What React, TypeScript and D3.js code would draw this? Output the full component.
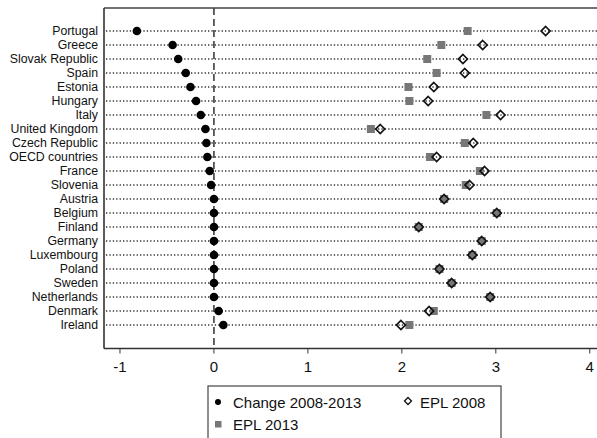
import * as d3 from 'd3'

// Countries, top to bottom
const COUNTRIES = [
  'Portugal', 'Greece', 'Slovak Republic', 'Spain', 'Estonia', 'Hungary', 'Italy',
  'United Kingdom', 'Czech Republic', 'OECD countries', 'France', 'Slovenia', 'Austria',
  'Belgium', 'Finland', 'Germany', 'Luxembourg', 'Poland', 'Sweden', 'Netherlands',
  'Denmark', 'Ireland',
]

// Change in EPL 2008-2013
const CHANGE = [
  -0.82, -0.44, -0.38, -0.30, -0.25, -0.19, -0.14, -0.09, -0.08, -0.07, -0.045, -0.03,
  0, 0, 0, 0, 0, 0, 0, 0, 0.05, 0.10,
]

// EPL index, 2008
const EPL_2008 = [
  3.53, 2.86, 2.65, 2.67, 2.34, 2.28, 3.05, 1.77, 2.76, 2.37, 2.88, 2.72, 2.45,
  3.01, 2.18, 2.85, 2.75, 2.40, 2.53, 2.94, 2.29, 1.99,
]

// EPL index, 2013
const EPL_2013 = [
  2.70, 2.42, 2.27, 2.37, 2.07, 2.08, 2.90, 1.67, 2.67, 2.30, 2.83, 2.68, 2.45,
  3.01, 2.18, 2.85, 2.75, 2.40, 2.53, 2.94, 2.34, 2.08,
]

const X_TICKS = [-1, 0, 1, 2, 3, 4]

const FONT = '"Liberation Sans", Arial, Helvetica, sans-serif'
const GRAY_SQ = '#777777'

const WIDTH = 597
const HEIGHT = 438
const PLOT = { left: 104, top: 8, right: 602, bottom: 348.5 }

const diamond = (cx: number, cy: number, r: number) =>
  `M${cx},${cy - r}L${cx + r},${cy}L${cx},${cy + r}L${cx - r},${cy}Z`

export default function App() {
  const x = d3.scaleLinear().domain([-1.17, 4.13]).range([PLOT.left, PLOT.right])
  const y = d3.scalePoint<string>().domain(COUNTRIES).range([31, 325])

  return (
    <svg
      width={WIDTH}
      height={HEIGHT}
      style={{ position: 'absolute', left: 0, top: 0, background: '#fff' }}
      fontFamily={FONT}
    >
      <rect width={WIDTH} height={HEIGHT} fill="#fff" />

      {/* dotted row guides */}
      {COUNTRIES.map(c => (
        <line
          key={'g' + c}
          x1={PLOT.left + 2}
          x2={WIDTH}
          y1={y(c)}
          y2={y(c)}
          stroke="#333"
          strokeWidth={1.3}
          strokeDasharray="1.3,2.1"
        />
      ))}

      {/* zero line */}
      <line
        x1={x(0)}
        x2={x(0)}
        y1={PLOT.top}
        y2={PLOT.bottom}
        stroke="#222"
        strokeWidth={1.4}
        strokeDasharray="7,4"
      />

      {/* frame */}
      <line x1={PLOT.left} x2={WIDTH} y1={PLOT.top} y2={PLOT.top} stroke="#444" strokeWidth={1.5} />
      <line x1={PLOT.left} x2={PLOT.left} y1={PLOT.top} y2={PLOT.bottom} stroke="#333" strokeWidth={1.6} />
      <line x1={PLOT.left} x2={WIDTH} y1={PLOT.bottom} y2={PLOT.bottom} stroke="#333" strokeWidth={1.6} />

      {/* country labels */}
      {COUNTRIES.map(c => (
        <text
          key={'l' + c}
          x={PLOT.left - 6}
          y={(y(c) ?? 0) + 4.3}
          textAnchor="end"
          fontSize={12.3}
          fill="#111"
        >
          {c}
        </text>
      ))}

      {/* x axis ticks */}
      {X_TICKS.map(t => (
        <g key={'t' + t}>
          <line x1={x(t)} x2={x(t)} y1={PLOT.bottom} y2={PLOT.bottom + 5} stroke="#333" strokeWidth={1} />
          <text x={x(t)} y={372} textAnchor="middle" fontSize={15} fill="#111">
            {t < 0 ? `-${Math.abs(t)}` : t}
          </text>
        </g>
      ))}

      {/* EPL 2013 squares */}
      {COUNTRIES.map((c, i) => (
        <rect
          key={'s' + c}
          x={x(EPL_2013[i]) - 4}
          y={(y(c) ?? 0) - 4}
          width={8}
          height={8}
          fill={GRAY_SQ}
        />
      ))}

      {/* EPL 2008 hollow diamonds */}
      {COUNTRIES.map((c, i) => (
        <path
          key={'d' + c}
          d={diamond(x(EPL_2008[i]), y(c) ?? 0, 4.5)}
          fill="none"
          stroke="#111"
          strokeWidth={1.7}
        />
      ))}

      {/* change dots */}
      {COUNTRIES.map((c, i) => (
        <circle key={'c' + c} cx={x(CHANGE[i])} cy={y(c)} r={4.3} fill="#000" />
      ))}

      {/* legend */}
      <rect x={208} y={386} width={293} height={70} fill="#fff" stroke="#444" strokeWidth={1.2} />
      <circle cx={218} cy={402} r={3} fill="#000" />
      <text x={233} y={407.5} fontSize={15} fill="#111">Change 2008-2013</text>
      <path d={diamond(408, 401, 3.5)} fill="none" stroke="#111" strokeWidth={1.3} />
      <text x={420} y={407.5} fontSize={15} fill="#111">EPL 2008</text>
      <rect x={215} y={421} width={6.5} height={6.5} fill={GRAY_SQ} />
      <text x={233} y={430} fontSize={15} fill="#111">EPL 2013</text>
    </svg>
  )
}
